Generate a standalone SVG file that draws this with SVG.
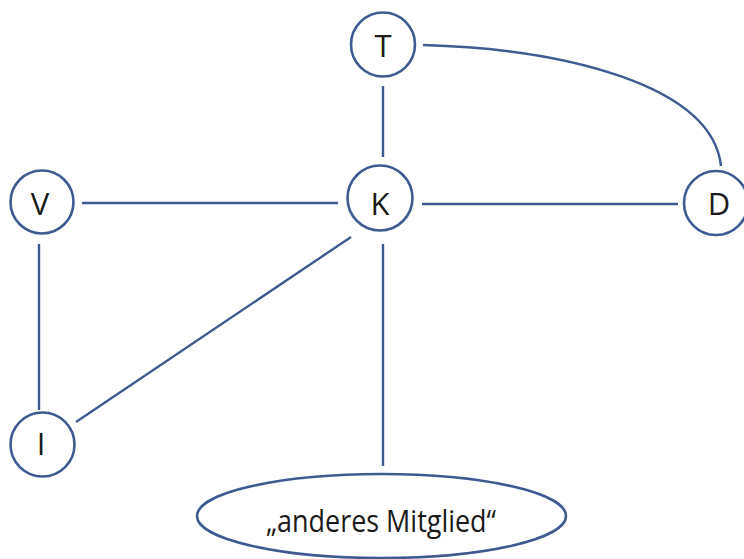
<svg xmlns="http://www.w3.org/2000/svg" width="744" height="559" viewBox="0 0 744 559">
<style>
.n{fill:#fff;stroke:#3d5b91;stroke-width:2.6}
.e{fill:none;stroke:#3d5b91;stroke-width:2.4}
.t{font-family:"Open Sans","Liberation Sans",sans-serif;font-size:31px;fill:#1a1a1a;text-anchor:middle}
</style>
<rect width="744" height="559" fill="#fff"/>
<g id="edges">
<line class="e" x1="383" y1="86" x2="383" y2="157"/>
<path class="e" d="M423,45 C565,49 712,85 721,166"/>
<line class="e" x1="82" y1="203" x2="338" y2="203"/>
<line class="e" x1="422" y1="204" x2="678" y2="204"/>
<line class="e" x1="39" y1="244" x2="39" y2="410"/>
<line class="e" x1="351" y1="237" x2="76" y2="422"/>
<line class="e" x1="383" y1="244" x2="383" y2="466"/>
</g>
<g id="T"><circle class="n" cx="383" cy="44.5" r="32"/><text class="t" x="383" y="57">T</text></g>
<g id="K"><circle class="n" cx="380" cy="198" r="32.5"/><text class="t" x="380" y="215">K</text></g>
<g id="V"><circle class="n" cx="42" cy="202" r="31.5"/><text class="t" x="40" y="215">V</text></g>
<g id="D"><circle class="n" cx="716" cy="203" r="32"/><text class="t" x="719" y="215">D</text></g>
<g id="I"><circle class="n" cx="42.5" cy="444.5" r="32"/><text class="t" x="41" y="455">I</text></g>
<g id="M"><ellipse class="n" cx="381.5" cy="516" rx="184.5" ry="42"/><text class="t" x="381" y="532" textLength="230" lengthAdjust="spacingAndGlyphs">„anderes Mitglied“</text></g>
</svg>
